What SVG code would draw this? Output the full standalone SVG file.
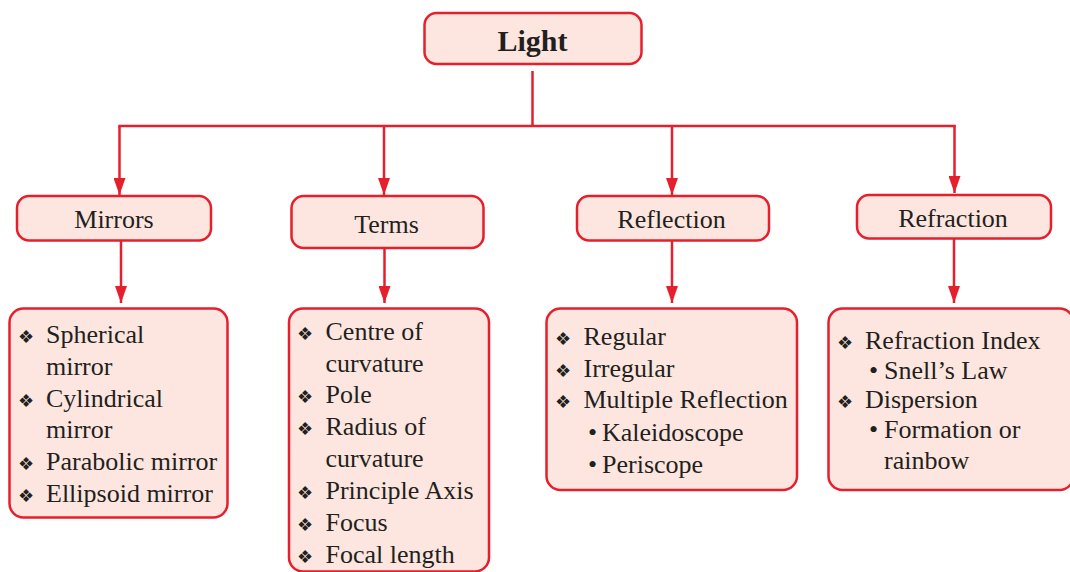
<svg xmlns="http://www.w3.org/2000/svg" width="1070" height="572" viewBox="0 0 1070 572">
<defs>
<style>
.box{fill:#fde6df;stroke:#e61f2d;stroke-width:2.5}
.ln{fill:none;stroke:#e61f2d;stroke-width:2.5}
.t{font-family:"Liberation Serif","Times New Roman",serif;font-size:26px;fill:#231f20}
.c{text-anchor:middle}
.b{font-weight:bold;font-size:30px}
.d{font-family:"DejaVu Sans",sans-serif;font-size:18px;fill:#231f20}
</style>
<marker id="ah" viewBox="0 0 17 12" refX="17" refY="6" markerWidth="17" markerHeight="12" markerUnits="userSpaceOnUse" orient="auto">
<path d="M0,0 L17,6 L0,12 z" fill="#e61f2d"/>
</marker>
</defs>
<rect width="1070" height="572" fill="#ffffff"/>
<g id="connectors">
<path class="ln" d="M532.5,71 V126"/>
<path class="ln" d="M118.3,126 H955.8"/>
<path class="ln" d="M119.5,126 V195" marker-end="url(#ah)"/>
<path class="ln" d="M384,126 V195" marker-end="url(#ah)"/>
<path class="ln" d="M672,126 V195" marker-end="url(#ah)"/>
<path class="ln" d="M954.5,126 V193" marker-end="url(#ah)"/>
<path class="ln" d="M121,241 V303" marker-end="url(#ah)"/>
<path class="ln" d="M384.5,248 V303" marker-end="url(#ah)"/>
<path class="ln" d="M672,241 V303" marker-end="url(#ah)"/>
<path class="ln" d="M954,238 V303" marker-end="url(#ah)"/>
</g>
<g id="light">
<rect class="box" x="424.5" y="13" width="217" height="51" rx="12"/>
<text class="t c b" x="532.5" y="51">Light</text>
</g>
<g id="mirrors">
<rect class="box" x="17" y="196" width="194" height="44.5" rx="12"/>
<text class="t c" x="114" y="228">Mirrors</text>
</g>
<g id="terms">
<rect class="box" x="291.5" y="196" width="192" height="52" rx="12"/>
<text class="t c" x="386.5" y="233">Terms</text>
</g>
<g id="reflection">
<rect class="box" x="577" y="196" width="192" height="44.5" rx="12"/>
<text class="t c" x="671.5" y="228">Reflection</text>
</g>
<g id="refraction">
<rect class="box" x="857" y="195" width="194" height="43.5" rx="12"/>
<text class="t c" x="953" y="226.5">Refraction</text>
</g>
<g id="mirrors-list">
<rect class="box" x="9.5" y="308.5" width="218" height="209" rx="14"/>
<text class="d" x="18" y="343">❖</text>
<text class="t" x="46" y="343">Spherical</text>
<text class="t" x="46" y="375">mirror</text>
<text class="d" x="18" y="407">❖</text>
<text class="t" x="46" y="407">Cylindrical</text>
<text class="t" x="46" y="438">mirror</text>
<text class="d" x="18" y="470">❖</text>
<text class="t" x="46" y="470">Parabolic mirror</text>
<text class="d" x="18" y="502">❖</text>
<text class="t" x="46" y="502">Ellipsoid mirror</text>
</g>
<g id="terms-list">
<rect class="box" x="289" y="308.5" width="200" height="263" rx="14"/>
<text class="d" x="297" y="340">❖</text>
<text class="t" x="325.5" y="340">Centre of</text>
<text class="t" x="325.5" y="372">curvature</text>
<text class="d" x="297" y="403">❖</text>
<text class="t" x="325.5" y="403">Pole</text>
<text class="d" x="297" y="435">❖</text>
<text class="t" x="325.5" y="435">Radius of</text>
<text class="t" x="325.5" y="467">curvature</text>
<text class="d" x="297" y="499">❖</text>
<text class="t" x="325.5" y="499">Principle Axis</text>
<text class="d" x="297" y="531">❖</text>
<text class="t" x="325.5" y="531">Focus</text>
<text class="d" x="297" y="563">❖</text>
<text class="t" x="325.5" y="563">Focal length</text>
</g>
<g id="reflection-list">
<rect class="box" x="546.5" y="308.5" width="250.5" height="181.5" rx="14"/>
<text class="d" x="555" y="345">❖</text>
<text class="t" x="583.5" y="345">Regular</text>
<text class="d" x="555" y="377">❖</text>
<text class="t" x="583.5" y="377">Irregular</text>
<text class="d" x="555" y="408">❖</text>
<text class="t" x="583.5" y="408">Multiple Reflection</text>
<text class="t" x="588" y="441">• <tspan x="602">Kaleidoscope</tspan></text>
<text class="t" x="588" y="473">• <tspan x="602">Periscope</tspan></text>
</g>
<g id="refraction-list">
<rect class="box" x="828.5" y="308.5" width="245" height="181.5" rx="14"/>
<text class="d" x="837" y="349">❖</text>
<text class="t" x="865" y="349">Refraction Index</text>
<text class="t" x="869" y="378.5">• <tspan x="884">Snell’s Law</tspan></text>
<text class="d" x="837" y="407.5">❖</text>
<text class="t" x="865" y="407.5">Dispersion</text>
<text class="t" x="869" y="437.5">• <tspan x="884">Formation or</tspan></text>
<text class="t" x="884" y="469">rainbow</text>
</g>
</svg>
